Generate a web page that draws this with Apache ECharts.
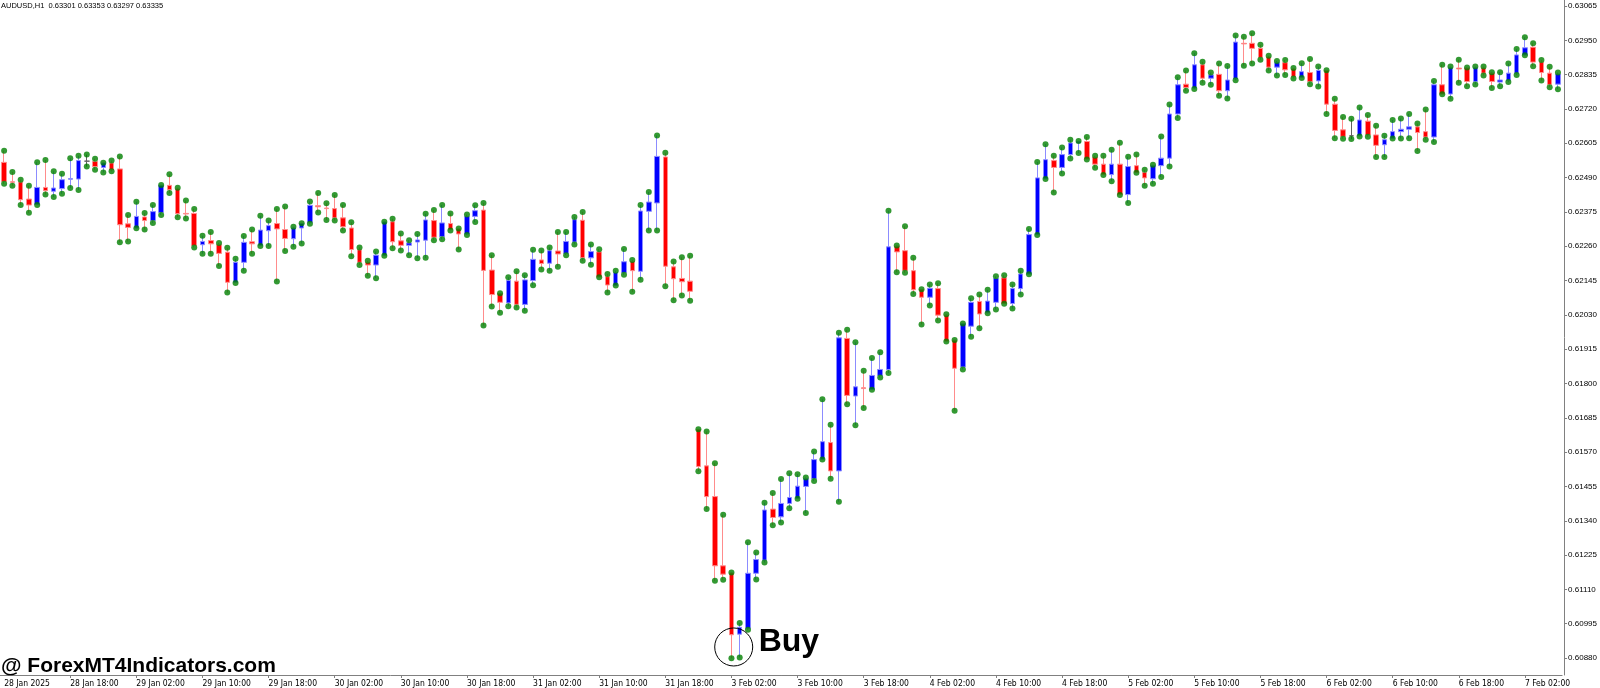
<!DOCTYPE html>
<html>
<head>
<meta charset="utf-8">
<title>AUDUSD,H1</title>
<script src="https://cdn.jsdelivr.net/npm/echarts@6/dist/echarts.min.js"></script>
<style>
  html, body { margin: 0; padding: 0; background: #fff; }
  #chart { width: 1600px; height: 688px; }
</style>
</head>
<body>
<div id="chart"></div>
<script>
// hourly bars, left to right (one per category)
const opens = [
  0.62541, 0.62476, 0.62475, 0.62418, 0.62400, 0.62457, 0.62444, 0.62453, 0.62484, 0.62485,
  0.62545, 0.62544, 0.62524, 0.62539, 0.62519, 0.62335, 0.62321, 0.62358, 0.62346, 0.62373,
  0.62464, 0.62452, 0.62370, 0.62370, 0.62265, 0.62279, 0.62265, 0.62240, 0.62139, 0.62206,
  0.62275, 0.62262, 0.62312, 0.62336, 0.62316, 0.62285, 0.62321, 0.62340, 0.62396, 0.62388,
  0.62386, 0.62355, 0.62321, 0.62248, 0.62206, 0.62197, 0.62230, 0.62342, 0.62278, 0.62263,
  0.62274, 0.62280, 0.62346, 0.62292, 0.62336, 0.62318, 0.62301, 0.62360, 0.62381, 0.62180,
  0.62101, 0.62070, 0.62143, 0.62065, 0.62145, 0.62214, 0.62203, 0.62244, 0.62236, 0.62274,
  0.62347, 0.62221, 0.62241, 0.62158, 0.62129, 0.62171, 0.62209, 0.62176, 0.62377, 0.62405,
  0.62559, 0.62191, 0.62152, 0.62143, 0.61646, 0.61524, 0.61421, 0.61189, 0.61165, 0.60960,
  0.60980, 0.61164, 0.61208, 0.61379, 0.61353, 0.61398, 0.61415, 0.61455, 0.61481, 0.61546,
  0.61602, 0.61507, 0.61951, 0.61758, 0.61786, 0.61780, 0.61827, 0.61847, 0.62260, 0.62245,
  0.62178, 0.62115, 0.62089, 0.62118, 0.62029, 0.61945, 0.61855, 0.61992, 0.62075, 0.62037,
  0.62072, 0.62154, 0.62068, 0.62118, 0.62167, 0.62299, 0.62486, 0.62547, 0.62524, 0.62567,
  0.62606, 0.62611, 0.62558, 0.62535, 0.62500, 0.62535, 0.62433, 0.62530, 0.62507, 0.62486,
  0.62530, 0.62555, 0.62703, 0.62803, 0.62790, 0.62868, 0.62823, 0.62836, 0.62781, 0.62821,
  0.62940, 0.62940, 0.62923, 0.62894, 0.62860, 0.62875, 0.62854, 0.62826, 0.62842, 0.62814,
  0.62849, 0.62736, 0.62650, 0.62630, 0.62630, 0.62679, 0.62633, 0.62600, 0.62622, 0.62644,
  0.62652, 0.62660, 0.62644, 0.62626, 0.62801, 0.62770, 0.62857, 0.62857, 0.62812, 0.62857,
  0.62840, 0.62810, 0.62816, 0.62840, 0.62901, 0.62927, 0.62877, 0.62840, 0.62803
];
const closes = [
  0.62477, 0.62474, 0.62416, 0.62398, 0.62457, 0.62446, 0.62455, 0.62483, 0.62487, 0.62547,
  0.62545, 0.62527, 0.62539, 0.62516, 0.62332, 0.62323, 0.62360, 0.62346, 0.62376, 0.62464,
  0.62449, 0.62369, 0.62368, 0.62262, 0.62276, 0.62268, 0.62236, 0.62139, 0.62206, 0.62273,
  0.62268, 0.62314, 0.62329, 0.62318, 0.62286, 0.62321, 0.62336, 0.62397, 0.62392, 0.62386,
  0.62355, 0.62325, 0.62249, 0.62206, 0.62197, 0.62230, 0.62341, 0.62275, 0.62263, 0.62271,
  0.62281, 0.62348, 0.62290, 0.62338, 0.62316, 0.62301, 0.62360, 0.62379, 0.62179, 0.62098,
  0.62072, 0.62145, 0.62065, 0.62147, 0.62216, 0.62202, 0.62245, 0.62234, 0.62276, 0.62349,
  0.62221, 0.62242, 0.62157, 0.62130, 0.62172, 0.62208, 0.62178, 0.62378, 0.62408, 0.62561,
  0.62193, 0.62151, 0.62141, 0.62109, 0.61522, 0.61421, 0.61189, 0.61161, 0.60958, 0.60983,
  0.61164, 0.61210, 0.61376, 0.61351, 0.61398, 0.61418, 0.61456, 0.61481, 0.61545, 0.61605,
  0.61507, 0.61953, 0.61760, 0.61789, 0.61783, 0.61827, 0.61847, 0.62258, 0.62241, 0.62179,
  0.62114, 0.62089, 0.62119, 0.62029, 0.61942, 0.61851, 0.62000, 0.62072, 0.62033, 0.62076,
  0.62152, 0.62068, 0.62118, 0.62167, 0.62299, 0.62489, 0.62550, 0.62524, 0.62567, 0.62606,
  0.62611, 0.62552, 0.62535, 0.62500, 0.62535, 0.62433, 0.62527, 0.62507, 0.62489, 0.62530,
  0.62555, 0.62703, 0.62801, 0.62792, 0.62868, 0.62823, 0.62834, 0.62781, 0.62817, 0.62944,
  0.62938, 0.62923, 0.62892, 0.62860, 0.62875, 0.62851, 0.62828, 0.62845, 0.62812, 0.62849,
  0.62736, 0.62648, 0.62628, 0.62630, 0.62683, 0.62633, 0.62598, 0.62617, 0.62644, 0.62652,
  0.62660, 0.62641, 0.62626, 0.62801, 0.62770, 0.62858, 0.62854, 0.62812, 0.62858, 0.62840,
  0.62812, 0.62817, 0.62840, 0.62901, 0.62925, 0.62877, 0.62842, 0.62802, 0.62837
];
const highs = [
  0.62580, 0.62509, 0.62483, 0.62463, 0.62541, 0.62549, 0.62511, 0.62503, 0.62555, 0.62563,
  0.62567, 0.62553, 0.62540, 0.62547, 0.62561, 0.62365, 0.62409, 0.62371, 0.62398, 0.62465,
  0.62501, 0.62456, 0.62413, 0.62385, 0.62295, 0.62308, 0.62271, 0.62255, 0.62218, 0.62294,
  0.62316, 0.62362, 0.62346, 0.62385, 0.62393, 0.62325, 0.62337, 0.62410, 0.62438, 0.62404,
  0.62432, 0.62398, 0.62340, 0.62256, 0.62211, 0.62242, 0.62342, 0.62352, 0.62303, 0.62280,
  0.62301, 0.62369, 0.62381, 0.62398, 0.62370, 0.62319, 0.62366, 0.62397, 0.62405, 0.62230,
  0.62102, 0.62156, 0.62176, 0.62163, 0.62248, 0.62246, 0.62256, 0.62308, 0.62308, 0.62358,
  0.62375, 0.62266, 0.62250, 0.62167, 0.62178, 0.62251, 0.62214, 0.62398, 0.62442, 0.62631,
  0.62573, 0.62209, 0.62223, 0.62228, 0.61647, 0.61639, 0.61533, 0.61360, 0.61167, 0.60997,
  0.61268, 0.61234, 0.61400, 0.61433, 0.61480, 0.61499, 0.61496, 0.61485, 0.61572, 0.61747,
  0.61662, 0.61970, 0.61980, 0.61938, 0.61843, 0.61885, 0.61905, 0.62379, 0.62262, 0.62327,
  0.62221, 0.62116, 0.62132, 0.62136, 0.62032, 0.61946, 0.62001, 0.62086, 0.62098, 0.62114,
  0.62159, 0.62163, 0.62132, 0.62178, 0.62318, 0.62542, 0.62602, 0.62563, 0.62591, 0.62617,
  0.62613, 0.62626, 0.62563, 0.62563, 0.62583, 0.62607, 0.62560, 0.62567, 0.62516, 0.62533,
  0.62628, 0.62735, 0.62826, 0.62849, 0.62907, 0.62878, 0.62842, 0.62872, 0.62864, 0.62966,
  0.62962, 0.62974, 0.62935, 0.62898, 0.62881, 0.62884, 0.62857, 0.62873, 0.62887, 0.62862,
  0.62850, 0.62754, 0.62693, 0.62687, 0.62725, 0.62700, 0.62664, 0.62630, 0.62683, 0.62688,
  0.62703, 0.62671, 0.62718, 0.62814, 0.62868, 0.62862, 0.62885, 0.62859, 0.62862, 0.62862,
  0.62843, 0.62843, 0.62872, 0.62921, 0.62960, 0.62940, 0.62884, 0.62861, 0.62842
];
const lows = [
  0.62469, 0.62463, 0.62398, 0.62372, 0.62398, 0.62433, 0.62425, 0.62436, 0.62455, 0.62448,
  0.62527, 0.62516, 0.62507, 0.62511, 0.62273, 0.62276, 0.62320, 0.62316, 0.62338, 0.62365,
  0.62438, 0.62357, 0.62353, 0.62256, 0.62235, 0.62235, 0.62194, 0.62105, 0.62137, 0.62178,
  0.62235, 0.62261, 0.62261, 0.62142, 0.62244, 0.62258, 0.62269, 0.62335, 0.62373, 0.62348,
  0.62346, 0.62313, 0.62226, 0.62197, 0.62161, 0.62153, 0.62228, 0.62253, 0.62246, 0.62230,
  0.62220, 0.62221, 0.62280, 0.62283, 0.62313, 0.62249, 0.62298, 0.62341, 0.61994, 0.62058,
  0.62037, 0.62059, 0.62055, 0.62044, 0.62129, 0.62182, 0.62178, 0.62191, 0.62230, 0.62266,
  0.62211, 0.62198, 0.62156, 0.62105, 0.62128, 0.62164, 0.62107, 0.62148, 0.62313, 0.62313,
  0.62126, 0.62079, 0.62095, 0.62077, 0.61506, 0.61379, 0.61139, 0.61142, 0.60879, 0.60882,
  0.60975, 0.61143, 0.61200, 0.61325, 0.61334, 0.61382, 0.61414, 0.61366, 0.61473, 0.61545,
  0.61481, 0.61404, 0.61730, 0.61660, 0.61718, 0.61779, 0.61820, 0.61835, 0.62173, 0.62171,
  0.62100, 0.61998, 0.62061, 0.62011, 0.61941, 0.61709, 0.61847, 0.61957, 0.61985, 0.62035,
  0.62048, 0.62067, 0.62051, 0.62098, 0.62166, 0.62298, 0.62485, 0.62440, 0.62504, 0.62554,
  0.62572, 0.62551, 0.62523, 0.62499, 0.62478, 0.62432, 0.62405, 0.62506, 0.62463, 0.62469,
  0.62492, 0.62527, 0.62690, 0.62781, 0.62787, 0.62808, 0.62801, 0.62764, 0.62755, 0.62816,
  0.62865, 0.62872, 0.62885, 0.62849, 0.62832, 0.62834, 0.62822, 0.62824, 0.62803, 0.62795,
  0.62703, 0.62622, 0.62620, 0.62619, 0.62628, 0.62627, 0.62559, 0.62559, 0.62621, 0.62621,
  0.62622, 0.62579, 0.62617, 0.62609, 0.62769, 0.62754, 0.62808, 0.62796, 0.62802, 0.62832,
  0.62790, 0.62796, 0.62810, 0.62834, 0.62900, 0.62863, 0.62815, 0.62793, 0.62786
];

// time labels, one every 8 bars starting at bar 0
const xLabels = [
  '28 Jan 2025', '28 Jan 18:00', '29 Jan 02:00', '29 Jan 10:00', '29 Jan 18:00',
  '30 Jan 02:00', '30 Jan 10:00', '30 Jan 18:00', '31 Jan 02:00', '31 Jan 10:00',
  '31 Jan 18:00', '3 Feb 02:00', '3 Feb 10:00', '3 Feb 18:00', '4 Feb 02:00',
  '4 Feb 10:00', '4 Feb 18:00', '5 Feb 02:00', '5 Feb 10:00', '5 Feb 18:00',
  '6 Feb 02:00', '6 Feb 10:00', '6 Feb 18:00', '7 Feb 02:00'
];
const labelStep = 8;

// price scale labels on the right
const yTicks = [
  0.60880, 0.60995, 0.61110, 0.61225, 0.61340, 0.61455, 0.61570, 0.61685, 0.61800, 0.61915,
  0.62030, 0.62145, 0.62260, 0.62375, 0.62490, 0.62605, 0.62720, 0.62835, 0.62950, 0.63065
];
const yMin = 0.608231;
const yMax = 0.630851;

const titleText = 'AUDUSD,H1  0.63301 0.63353 0.63297 0.63335';
const buyIndex = 89;
const buyPrice = 0.60917;

const fontFamily = 'Tahoma, "Liberation Sans", Arial, sans-serif';
const narrowFont = '"Liberation Sans Narrow", "DejaVu Sans Condensed", Tahoma, "Liberation Sans", sans-serif';

const chart = echarts.init(document.getElementById('chart'));
const categories = opens.map((o, i) => String(i));
const candles = opens.map((o, i) => [o, closes[i], lows[i], highs[i]]);
const isLabelBar = i => i % labelStep === 0 && i / labelStep < xLabels.length;

const option = {
  animation: false,
  backgroundColor: '#ffffff',
  title: {
    text: titleText,
    left: 1,
    top: 2,
    padding: 0,
    textStyle: { fontSize: 7.5, fontWeight: 'normal', color: '#000', fontFamily: fontFamily }
  },
  grid: {
    left: -5.7,
    right: 34,
    top: 0,
    bottom: 12
  },
  xAxis: {
    type: 'category',
    data: categories,
    boundaryGap: true,
    axisLine: { lineStyle: { color: '#808080', width: 1 } },
    axisTick: {
      show: true,
      alignWithLabel: true,
      length: 3,
      interval: (i) => isLabelBar(i) && i > 0,
      lineStyle: { color: '#808080' }
    },
    axisLabel: {
      interval: (i) => isLabelBar(i),
      formatter: (v, i) => xLabels[i / labelStep],
      align: 'left',
      margin: 4,
      fontSize: 8.5,
      color: '#000',
      fontFamily: narrowFont
    },
    splitLine: { show: false }
  },
  yAxis: {
    type: 'value',
    position: 'right',
    offset: 2,
    min: yMin,
    max: yMax,
    axisLine: { show: true, lineStyle: { color: '#808080', width: 1 } },
    axisTick: { show: true, length: 3, customValues: yTicks, lineStyle: { color: '#808080' } },
    axisLabel: {
      customValues: yTicks,
      formatter: v => v.toFixed(5),
      margin: 4,
      fontSize: 8,
      color: '#000',
      fontFamily: fontFamily
    },
    splitLine: { show: false }
  },
  series: [
    {
      name: 'AUDUSD',
      type: 'candlestick',
      data: candles,
      barWidth: 5,
      z: 2,
      itemStyle: {
        color: '#0000ff',
        color0: '#ff0000',
        borderColor: '#8c8cff',
        borderColor0: '#ff8c8c',
        borderColorDoji: '#606060',
        borderWidth: 1
      }
    },
    {
      name: 'high',
      type: 'scatter',
      data: highs,
      symbol: 'circle',
      symbolSize: 6,
      z: 3,
      itemStyle: { color: '#008000' }
    },
    {
      name: 'low',
      type: 'scatter',
      data: lows,
      symbol: 'circle',
      symbolSize: 6,
      z: 3,
      itemStyle: { color: '#008000' }
    }
  ]
};

chart.setOption(option);

// buy annotation and watermark
const p = chart.convertToPixel({ gridIndex: 0 }, [buyIndex, buyPrice]);
const cx = p[0] - 6;
const cy = p[1];
chart.setOption({
  graphic: [
    {
      type: 'circle',
      shape: { cx: cx, cy: cy, r: 19 },
      style: { fill: 'none', stroke: '#000', lineWidth: 1 },
      z: 10
    },
    {
      type: 'text',
      x: cx + 25,
      y: cy - 5,
      style: {
        text: 'Buy',
        font: 'bold 32px "Liberation Sans", Arial, sans-serif',
        fill: '#000',
        verticalAlign: 'middle'
      },
      z: 10
    },
    {
      type: 'text',
      x: 1,
      y: 666,
      style: {
        text: '@ ForexMT4Indicators.com',
        font: 'bold 21px "Liberation Sans", Arial, sans-serif',
        fill: '#000',
        verticalAlign: 'middle'
      },
      z: 10
    }
  ]
});
</script>
</body>
</html>
